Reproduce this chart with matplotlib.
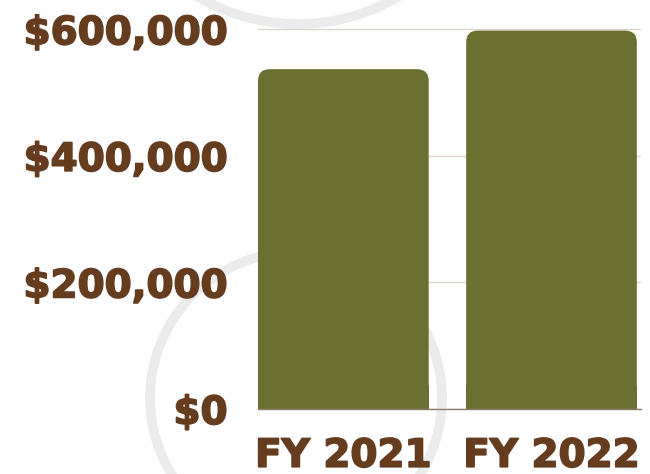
import matplotlib
matplotlib.use("Agg")
import matplotlib.pyplot as plt
import matplotlib.patheffects as pe
from matplotlib.patches import Circle, FancyBboxPatch, Rectangle

# data
years = ["FY 2021", "FY 2022"]
amounts = [537000, 598000]
tick_values = [0, 200000, 400000, 600000]
tick_labels = ["$0", "$200,000", "$400,000", "$600,000"]

BAR = "#6b6f2f"
BROWN = "#663c1f"
GRID = "#dcd3cc"
RING = "#ebebeb"

W, H = 650, 474
fig = plt.figure(figsize=(W / 100, H / 100), dpi=100)
fig.patch.set_facecolor("white")

# decorative rings behind everything, in pixel space
bg = fig.add_axes([0, 0, 1, 1], zorder=0)
bg.set_xlim(0, W)
bg.set_ylim(H, 0)
bg.axis("off")
bg.add_patch(Circle((298, -174), 198, fill=False, ec=RING, lw=7))
bg.add_patch(Circle((296, 398), 146, fill=False, ec=RING, lw=7))

# main axes: x 258..641 px, y 0 at 409 px
px_per_unit = 379.7 / 600000
ymax = 605000
top_px = 409 - ymax * px_per_unit
ax = fig.add_axes([258 / W, (H - 409) / H, (641 - 258) / W, (409 - top_px) / H], zorder=1)
ax.patch.set_alpha(0)

x = list(range(len(years)))
bars = ax.bar(x, amounts, width=0.82, color=BAR, zorder=2)
ax.set_xlim(-0.41, 1.43)
ax.set_ylim(0, ymax)

# swap plain bars for ones with rounded top corners (square bottom)
x_px = 208.5
r = 12
for b in bars:
    b.set_visible(False)
    bx, bw, bh = b.get_x(), b.get_width(), b.get_height()
    rx = r / x_px
    ry = r / px_per_unit
    ax.add_patch(FancyBboxPatch((bx, 0), bw, bh,
                                boxstyle=f"round,pad=0,rounding_size={rx}",
                                mutation_aspect=ry / rx, fc=BAR, ec="none", zorder=2))
    ax.add_patch(Rectangle((bx, 0), bw, 2 * ry, fc=BAR, ec="none", zorder=2))

ax.set_yticks(tick_values)
ax.set_yticklabels(tick_labels)
ax.set_xticks(x)
ax.set_xticklabels(years)
ax.yaxis.grid(True, color=GRID, lw=1, zorder=1)
ax.set_axisbelow(True)

for s in ["left", "right", "top"]:
    ax.spines[s].set_visible(False)
ax.spines["bottom"].set_color("#8c7b6c")
ax.spines["bottom"].set_linewidth(1)
ax.spines["bottom"].set_zorder(3)

ax.tick_params(axis="both", length=0, colors=BROWN)
ax.tick_params(axis="y", pad=22)
ax.tick_params(axis="x", pad=20)
for lab in ax.get_yticklabels() + ax.get_xticklabels():
    lab.set_fontsize(28)
    lab.set_fontweight("bold")
    lab.set_fontfamily("DejaVu Sans")
    lab.set_color(BROWN)
    lab.set_path_effects([pe.withStroke(linewidth=1.2, foreground=BROWN)])

fig.savefig("out.png", dpi=100)
